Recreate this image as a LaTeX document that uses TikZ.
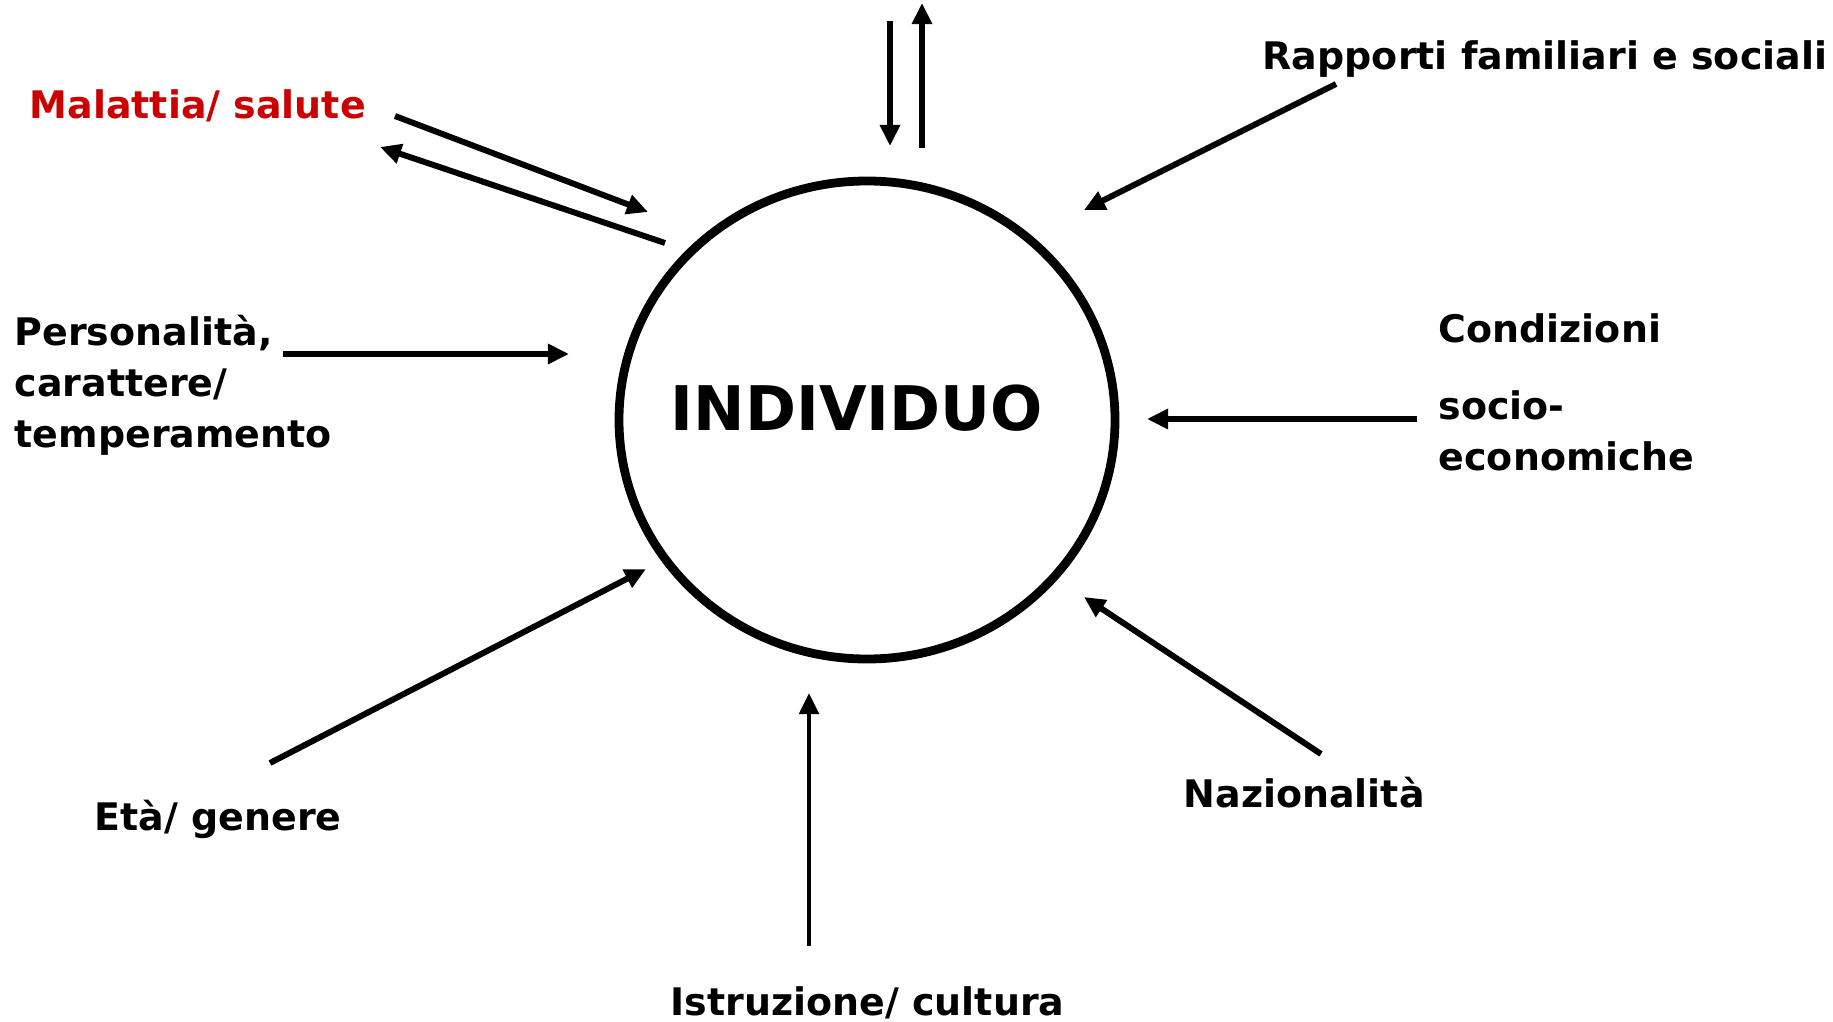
\documentclass[tikz,border=0pt]{standalone}
\usepackage{fontspec}
\setmainfont{DejaVu Sans}
\usetikzlibrary{arrows.meta,shapes.geometric}
\definecolor{salutered}{RGB}{204,0,0}
\tikzset{
  lbl/.style={font=\fontsize{10.8pt}{14.5pt}\selectfont\bfseries, anchor=base west, inner sep=0pt, align=left},
  arr/.style={-{Triangle[length=6pt,width=5.5pt]}, line width=1.7pt}
}
\begin{document}
\begin{tikzpicture}

    % Fix the page size
    \useasboundingbox (0,0) rectangle (18.33,10.21);

    % Define the centre of the circle
    \coordinate (C) at (8.67, 6.01);

    % Define the ends of the arrows
    \coordinate (topinS) at (8.90, 10.00);    % Top arrow going down
    \coordinate (topinE) at (8.90, 8.75);
    \coordinate (topoutS) at (9.22, 8.73);    % Top arrow going up
    \coordinate (topoutE) at (9.22, 10.18);
    \coordinate (malinS) at (3.95, 9.05);     % Malattia arrow in
    \coordinate (malinE) at (6.48, 8.09);
    \coordinate (maloutS) at (6.65, 7.78);    % Malattia arrow out
    \coordinate (maloutE) at (3.80, 8.74);
    \coordinate (persS) at (2.83, 6.67);      % Personalita arrow
    \coordinate (persE) at (5.69, 6.67);
    \coordinate (rappS) at (13.36, 9.37);     % Rapporti arrow
    \coordinate (rappE) at (10.84, 8.11);
    \coordinate (condS) at (14.17, 6.02);     % Condizioni arrow
    \coordinate (condE) at (11.47, 6.02);
    \coordinate (etaS) at (2.70, 2.58);       % Eta arrow
    \coordinate (etaE) at (6.46, 4.52);
    \coordinate (istrS) at (8.09, 0.75);      % Istruzione arrow
    \coordinate (istrE) at (8.09, 3.28);
    \coordinate (nazS) at (13.21, 2.67);      % Nazionalita arrow
    \coordinate (nazE) at (10.84, 4.24);

    % Draw the circle
    \node[draw, ellipse, line width=2.5pt, minimum width=4.96cm, minimum height=4.78cm] (indiv) at (C) {};

    % Draw the arrows
    \draw[arr] (topinS) -- (topinE);
    \draw[arr] (topoutS) -- (topoutE);
    \draw[arr] (malinS) -- (malinE);
    \draw[arr] (maloutS) -- (maloutE);
    \draw[arr] (persS) -- (persE);
    \draw[arr] (rappS) -- (rappE);
    \draw[arr] (condS) -- (condE);
    \draw[arr] (etaS) -- (etaE);
    \draw[arr, line width=1.2pt] (istrS) -- (istrE);
    \draw[arr] (nazS) -- (nazE);

    % Label the circle
    \node[font=\fontsize{17.5pt}{20pt}\selectfont\bfseries, anchor=base, inner sep=0pt] (individuo) at (8.57, 5.91) {INDIVIDUO};

    % Label the arrows
    \node[lbl, text=salutered] (malattia) at (0.29, 9.02) {Malattia/ salute};
    \node[lbl] (personalita) at (0.14, 5.74) {Personalità,\\carattere/\\temperamento};
    \node[lbl] (rapporti) at (12.62, 9.51) {Rapporti familiari e sociali};
    \node[lbl] (condizioni) at (14.38, 6.79) {Condizioni};
    \node[lbl, text height=1.8ex] (socio) at (14.38, 5.51) {socio-\\economiche};
    \node[lbl] (eta) at (0.94, 1.91) {Età/ genere};
    \node[lbl] (istruzione) at (6.70, 0.06) {Istruzione/ cultura};
    \node[lbl] (nazionalita) at (11.83, 2.14) {Nazionalità};

\end{tikzpicture}
\end{document}
